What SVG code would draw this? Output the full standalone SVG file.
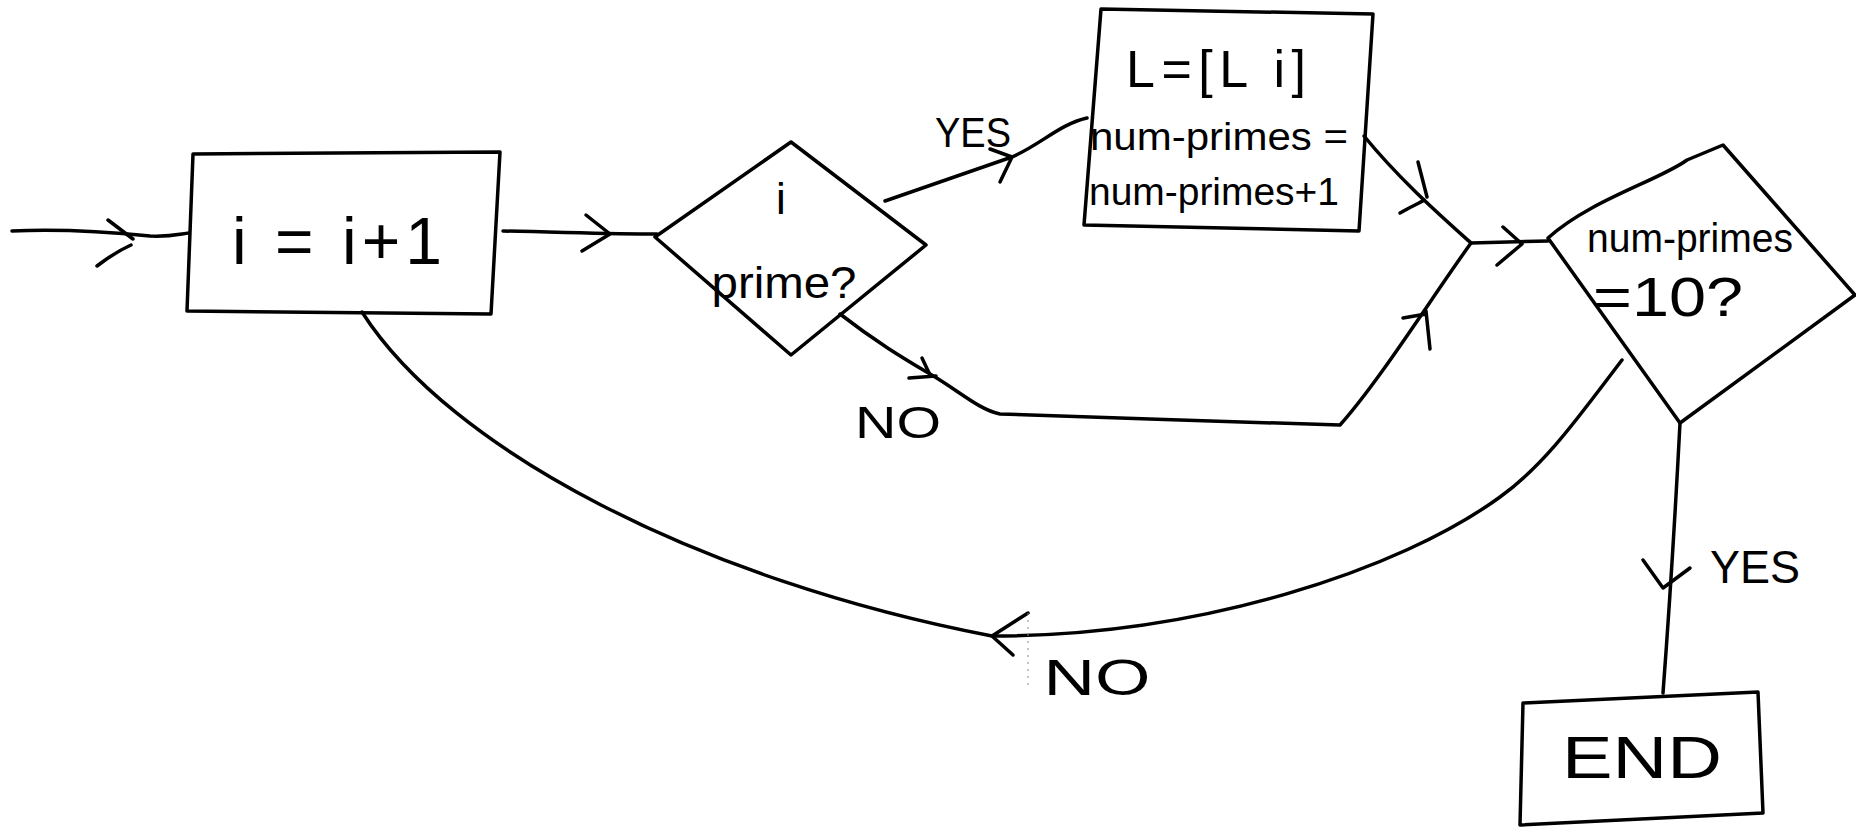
<svg xmlns="http://www.w3.org/2000/svg" width="1856" height="828" viewBox="0 0 1856 828">
<style>
.s{fill:none;stroke:#000;stroke-width:3.5;stroke-linecap:round;stroke-linejoin:round}
.t{font-family:"Liberation Sans",Arial,sans-serif;fill:#000;text-anchor:middle}
</style>
<rect width="1856" height="828" fill="#fff"/>
<g id="connectors">
  <!-- entry -->
  <path class="s" d="M12,231 C60,229 110,232 150,236 C170,237 180,234 189,233"/>
  <path class="s" d="M108,220 L133,239 M97,266 C110,256 120,250 131,245"/>
  <!-- box1 -> diamond1 -->
  <path class="s" d="M503,231 C560,232 610,234 657,234"/>
  <path class="s" d="M586,215 L610,234 L582,251"/>
  <!-- YES to box2 -->
  <path class="s" d="M885,201 L1012,157 C1040,145 1060,124 1087,118"/>
  <path class="s" d="M990,149 L1012,157 L1000,182"/>
  <!-- NO from diamond1 -->
  <path class="s" d="M840,314 C880,345 910,362 935,377 C960,392 980,410 1000,414 C1100,418 1250,422 1340,425 C1380,380 1430,300 1471,243"/>
  <path class="s" d="M909,378 L936,376 M922,358 L930,375"/>
  <path class="s" d="M1426,311 L1430,349 M1403,318 L1426,314"/>
  <!-- box2 -> junction -->
  <path class="s" d="M1364,136 C1400,180 1440,215 1471,243"/>
  <path class="s" d="M1418,162 L1427,197 M1400,213 C1410,207 1418,204 1424,200"/>
  <!-- junction -> diamond2 -->
  <path class="s" d="M1471,243 L1548,241"/>
  <path class="s" d="M1503,227 L1522,244 L1497,265"/>
  <!-- NO loop back -->
  <path class="s" d="M1622,360 C1580,415 1545,465 1500,497 C1400,570 1200,636 992,636 C700,580 450,450 362,312"/>
  <path class="s" d="M1028,613 L992,636 L1013,655"/>
  <path d="M1028,613 L1028,688" stroke="#888" stroke-width="1" stroke-dasharray="2,5" fill="none"/>
  <!-- YES down to END -->
  <path class="s" d="M1680,423 C1676,500 1670,600 1663,693"/>
  <path class="s" d="M1643,560 L1663,588 L1690,568"/>
</g>
<g id="box1">
  <path class="s" d="M193,154 L500,152 L491,314 L187,311 Z"/>
  <text class="t" x="337" y="264" font-size="66" textLength="210" lengthAdjust="spacing">i = i+1</text>
</g>
<g id="diamond1">
  <path class="s" d="M791,142 L926,245 L791,355 L655,237 Z"/>
  <text class="t" x="781" y="214" font-size="44">i</text>
  <text class="t" x="784" y="298" font-size="44" textLength="145" lengthAdjust="spacingAndGlyphs">prime?</text>
</g>
<g id="label-yes1"><text class="t" x="973" y="147" font-size="42" textLength="76" lengthAdjust="spacingAndGlyphs">YES</text></g>
<g id="label-no1"><text class="t" x="898" y="438" font-size="44" textLength="86" lengthAdjust="spacingAndGlyphs">NO</text></g>
<g id="box2">
  <path class="s" d="M1101,9 L1373,14 L1359,231 L1084,225 Z"/>
  <text class="t" x="1216" y="87" font-size="52" textLength="180" lengthAdjust="spacing">L=[L  i]</text>
  <text class="t" x="1219" y="150" font-size="38" textLength="258" lengthAdjust="spacingAndGlyphs">num-primes =</text>
  <text class="t" x="1214" y="205" font-size="38" textLength="250" lengthAdjust="spacingAndGlyphs">num-primes+1</text>
</g>
<g id="diamond2">
  <path class="s" d="M1548,238 C1590,200 1660,180 1687,160 L1723,145 L1855,295 L1680,423 Z"/>
  <text class="t" x="1690" y="252" font-size="40" textLength="206" lengthAdjust="spacingAndGlyphs">num-primes</text>
  <text class="t" x="1668" y="316" font-size="56" textLength="150" lengthAdjust="spacingAndGlyphs">=10?</text>
</g>
<g id="label-yes2"><text class="t" x="1755" y="583" font-size="46" textLength="90" lengthAdjust="spacingAndGlyphs">YES</text></g>
<g id="label-no2"><text class="t" x="1097" y="695" font-size="50" textLength="107" lengthAdjust="spacingAndGlyphs">NO</text></g>
<g id="end">
  <path class="s" d="M1523,703 L1758,692 L1763,813 L1520,825 Z"/>
  <text class="t" x="1642" y="778" font-size="60" textLength="160" lengthAdjust="spacingAndGlyphs">END</text>
</g>
</svg>
